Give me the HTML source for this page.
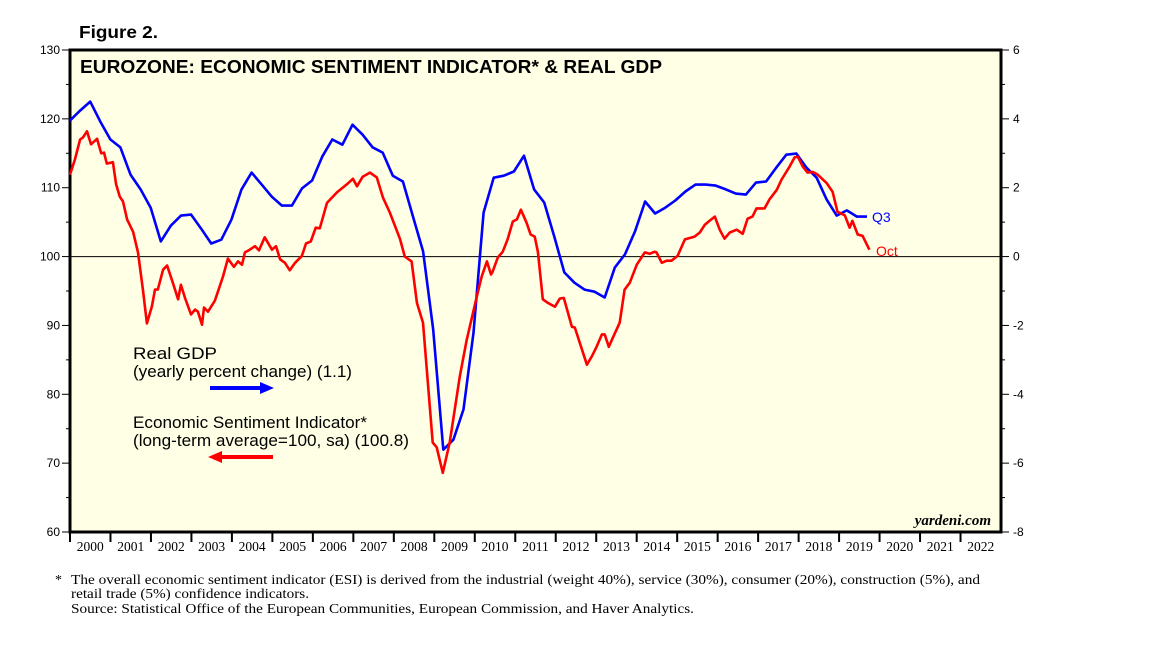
<!DOCTYPE html>
<html><head><meta charset="utf-8"><style>
body{margin:0;background:#fff;width:1152px;height:648px;overflow:hidden}
svg{display:block}
text{font-family:"Liberation Sans",Arial,sans-serif}
.serif{font-family:"Liberation Serif",serif}
</style></head><body>
<svg id="chart" width="1152" height="648">
<text x="79" y="38" font-size="17.5" font-weight="bold" textLength="79" lengthAdjust="spacingAndGlyphs">Figure 2.</text>
<rect x="70" y="50" width="931" height="482" fill="#ffffe6" stroke="#000" stroke-width="3"/>
<g id="axes"></g>
<g id="series"></g>
<text x="80" y="73" font-size="18" font-weight="bold" textLength="582" lengthAdjust="spacingAndGlyphs">EUROZONE: ECONOMIC SENTIMENT INDICATOR* &amp; REAL GDP</text>
<text x="133" y="359" font-size="16.5" textLength="84" lengthAdjust="spacingAndGlyphs">Real GDP</text>
<text x="133" y="377" font-size="16.5" textLength="219" lengthAdjust="spacingAndGlyphs">(yearly percent change) (1.1)</text>
<g><line x1="210" y1="388" x2="262" y2="388" stroke="#0000ff" stroke-width="4"/><polygon points="260,382 274,388 260,394" fill="#0000ff"/></g>
<text x="133" y="428" font-size="16.5" textLength="234" lengthAdjust="spacingAndGlyphs">Economic Sentiment Indicator*</text>
<text x="133" y="446" font-size="16.5" textLength="276" lengthAdjust="spacingAndGlyphs">(long-term average=100, sa) (100.8)</text>
<g><line x1="220" y1="457" x2="273" y2="457" stroke="#ff0000" stroke-width="4"/><polygon points="222,451 208,457 222,463" fill="#ff0000"/></g>
<text x="872" y="222" font-size="14" fill="#0000ff">Q3</text>
<text x="876" y="256" font-size="14" fill="#ff0000">Oct</text>
<text x="991" y="525" font-size="15" font-style="italic" font-weight="bold" text-anchor="end" class="serif">yardeni.com</text>
<text x="55" y="584" font-size="14" class="serif">*</text>
<text x="71" y="584" font-size="14" class="serif" textLength="909" lengthAdjust="spacingAndGlyphs">The overall economic sentiment indicator (ESI) is derived from the industrial (weight 40%), service (30%), consumer (20%), construction (5%), and</text>
<text x="71" y="598" font-size="14" class="serif" textLength="238" lengthAdjust="spacingAndGlyphs">retail trade (5%) confidence indicators.</text>
<text x="71" y="613" font-size="14" class="serif" textLength="623" lengthAdjust="spacingAndGlyphs">Source: Statistical Office of the European Communities, European Commission, and Haver Analytics.</text>
</svg>
<script>
const yearLabels=[2000,2001,2002,2003,2004,2005,2006,2007,2008,2009,2010,2011,2012,2013,2014,2015,2016,2017,2018,2019,2020,2021,2022];
const leftTicks=[60,70,80,90,100,110,120,130];
const rightTicks=[-8,-6,-4,-2,0,2,4,6];
const gdpStartYear=2000;
const gdpValues=[3.95,4.24,4.50,3.92,3.40,3.17,2.38,1.95,1.42,0.44,0.90,1.19,1.22,0.81,0.38,0.49,1.07,1.95,2.44,2.09,1.74,1.48,1.48,1.98,2.21,2.90,3.40,3.25,3.83,3.54,3.17,3.02,2.35,2.18,1.16,0.15,-2.12,-5.61,-5.32,-4.44,-2.21,1.28,2.29,2.35,2.47,2.93,1.95,1.57,0.58,-0.46,-0.76,-0.96,-1.02,-1.19,-0.32,0.06,0.73,1.60,1.25,1.42,1.63,1.89,2.09,2.09,2.06,1.95,1.83,1.80,2.15,2.18,2.58,2.96,2.99,2.58,2.29,1.66,1.19,1.34,1.16,1.16];
const esiDates=[2000.00,2000.12,2000.25,2000.32,2000.42,2000.52,2000.67,2000.77,2000.84,2000.91,2001.06,2001.14,2001.23,2001.31,2001.41,2001.56,2001.68,2001.80,2001.90,2002.02,2002.10,2002.17,2002.30,2002.40,2002.54,2002.67,2002.74,2002.84,2002.99,2003.09,2003.16,2003.26,2003.31,2003.41,2003.58,2003.78,2003.90,2004.05,2004.15,2004.25,2004.32,2004.44,2004.57,2004.67,2004.81,2004.99,2005.09,2005.19,2005.31,2005.43,2005.56,2005.73,2005.83,2005.95,2006.07,2006.17,2006.35,2006.59,2006.84,2006.99,2007.09,2007.23,2007.41,2007.58,2007.73,2007.90,2008.15,2008.27,2008.44,2008.57,2008.72,2008.96,2009.06,2009.21,2009.38,2009.63,2009.80,2010.05,2010.17,2010.30,2010.40,2010.44,2010.57,2010.69,2010.81,2010.94,2011.04,2011.14,2011.28,2011.38,2011.48,2011.56,2011.68,2011.80,2011.98,2012.10,2012.20,2012.40,2012.47,2012.77,2012.89,2013.01,2013.14,2013.21,2013.31,2013.41,2013.58,2013.70,2013.83,2014.00,2014.20,2014.32,2014.44,2014.49,2014.62,2014.74,2014.86,2015.01,2015.19,2015.43,2015.56,2015.68,2015.80,2015.93,2016.05,2016.17,2016.30,2016.47,2016.62,2016.74,2016.86,2016.96,2017.16,2017.28,2017.46,2017.58,2017.78,2017.90,2017.98,2018.10,2018.22,2018.35,2018.47,2018.69,2018.84,2018.96,2019.14,2019.26,2019.33,2019.46,2019.58,2019.75];
const esiValues=[111.9,114.1,117.0,117.3,118.2,116.3,117.1,115.0,115.1,113.5,113.7,110.5,108.7,108.0,105.4,103.6,100.6,95.2,90.3,92.7,95.2,95.2,98.1,98.7,96.2,93.8,95.9,94.0,91.6,92.3,92.0,90.1,92.6,92.0,93.6,97.1,99.7,98.5,99.3,98.8,100.6,101.0,101.5,100.9,102.8,101.0,101.5,99.6,99.1,98.0,99.1,100.1,101.9,102.2,104.2,104.1,107.8,109.3,110.5,111.3,110.2,111.6,112.2,111.5,108.6,106.4,102.6,100.0,99.3,93.3,90.4,73.0,72.3,68.6,73.0,82.6,87.9,94.2,97.1,99.3,97.4,97.8,99.9,100.7,102.5,105.1,105.4,106.8,104.9,103.2,102.9,100.7,93.8,93.3,92.7,93.9,94.0,89.8,89.7,84.3,85.5,86.9,88.7,88.7,86.9,88.2,90.4,95.2,96.2,98.8,100.6,100.4,100.7,100.6,99.1,99.4,99.4,100.1,102.5,102.9,103.5,104.6,105.2,105.8,103.9,102.6,103.5,103.9,103.3,105.5,105.8,107.0,107.0,108.3,109.7,111.2,113.1,114.4,114.5,113.1,112.2,112.3,111.9,110.7,109.4,106.5,106.0,104.2,105.2,103.2,103.0,101.0];

const X0=70,X1=1001,Y0=532,Y1=50;
const xs=y=>X0+(y-2000)*(X1-X0)/23;
const yl=v=>Y0-(v-60)*(Y0-Y1)/70;
const yr=v=>Y0-(v+8)*(Y0-Y1)/14;
const NS="http://www.w3.org/2000/svg";
const axes=document.getElementById('axes'),series=document.getElementById('series');
function mk(tag,attrs,parent){const e=document.createElementNS(NS,tag);for(const k in attrs)e.setAttribute(k,attrs[k]);parent.appendChild(e);return e;}

leftTicks.forEach((v,i)=>{
  const t=mk('line',{x1:X0-8,x2:X0,y1:yl(v),y2:yl(v),stroke:'#000'},axes);
  
  
  const l=mk('text',{x:X0-10,y:yl(v)+4,'font-size':12,'text-anchor':'end'},axes);
  l.textContent=v;
  
  
  if(i<leftTicks.length-1){const m=mk('line',{x1:X0-4,x2:X0,y1:yl(v+5),y2:yl(v+5),stroke:'#000'},axes);
  
  }
});
rightTicks.forEach((v,i)=>{
  const t=mk('line',{x1:X1,x2:X1+8,y1:yr(v),y2:yr(v),stroke:'#000'},axes);
  
  
  const l=mk('text',{x:X1+12,y:yr(v)+4,'font-size':12},axes);
  l.textContent=v;
  
  
  if(i<rightTicks.length-1){const m=mk('line',{x1:X1,x2:X1+4,y1:yr(v+1),y2:yr(v+1),stroke:'#000'},axes);
  
  }
});
yearLabels.forEach(y=>{
  const t=mk('line',{x1:xs(y),x2:xs(y),y1:Y0,y2:Y0+10,stroke:'#000','stroke-width':2},axes);
  
  
  const l=mk('text',{x:xs(y+0.5),y:Y0+19,'font-size':13.5,'text-anchor':'middle',class:'serif'},axes);
  l.textContent=y;
  
  
});
const zl=mk('line',{x1:X0,x2:X1,y1:yl(100),y2:yl(100),stroke:'#000','stroke-width':1},axes);



const gdpStep=(867-X0)/(gdpValues.length-1)*23/(X1-X0);
const gp=gdpValues.map((v,i)=>xs(gdpStartYear+i*gdpStep).toFixed(1)+','+yr(v).toFixed(1)).join(' ');
const g=mk('polyline',{points:gp,fill:'none',stroke:'#0000ff','stroke-width':2.6,'stroke-linejoin':'round'},series);


const ep=esiValues.map((v,i)=>xs(esiDates[i]).toFixed(1)+','+yl(v).toFixed(1)).join(' ');
const e=mk('polyline',{points:ep,fill:'none',stroke:'#ff0000','stroke-width':2.6,'stroke-linejoin':'round'},series);


</script>
</body></html>
